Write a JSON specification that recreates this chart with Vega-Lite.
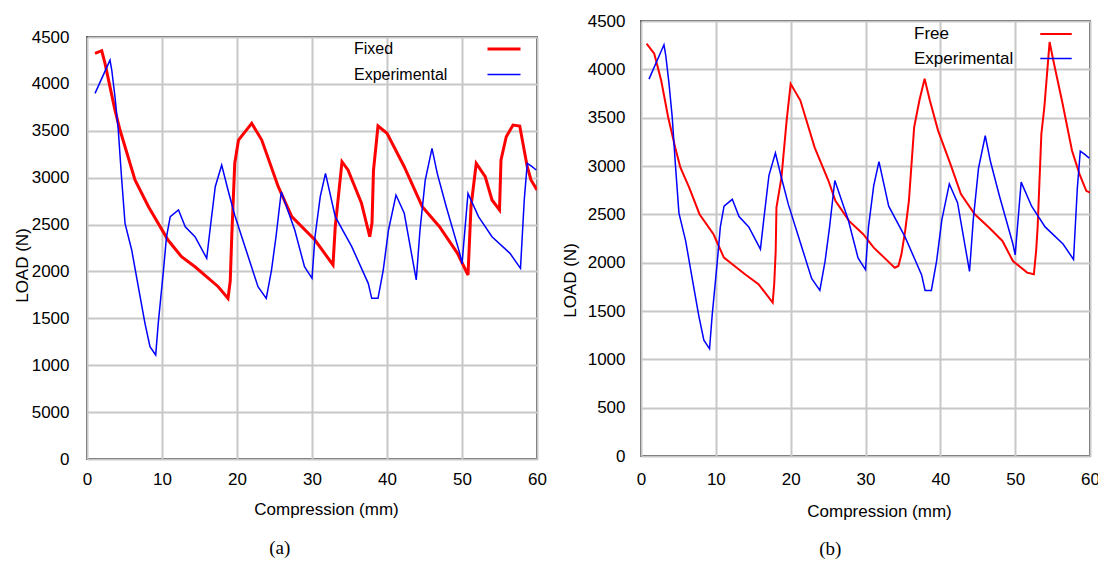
{
  "$schema": "https://vega.github.io/schema/vega-lite/v6.json",
  "background": "white",
  "padding": {"left": 12, "top": 11, "right": 0, "bottom": 0},
  "datasets": {
    "exp": [
      {"mm": 1.07, "load": 3899}, {"mm": 3.07, "load": 4254}, {"mm": 3.3, "load": 4148}, {"mm": 3.73, "load": 3863},
      {"mm": 4.17, "load": 3508}, {"mm": 4.6, "load": 3010}, {"mm": 5.07, "load": 2513}, {"mm": 5.96, "load": 2229},
      {"mm": 6.84, "load": 1837}, {"mm": 7.73, "load": 1447}, {"mm": 8.4, "load": 1198}, {"mm": 9.16, "load": 1109},
      {"mm": 9.5, "load": 1447}, {"mm": 10.2, "load": 2015}, {"mm": 10.6, "load": 2370}, {"mm": 11.1, "load": 2584},
      {"mm": 12.2, "load": 2655}, {"mm": 13.1, "load": 2477}, {"mm": 14.4, "load": 2370}, {"mm": 15.96, "load": 2140},
      {"mm": 16.4, "load": 2442}, {"mm": 17.1, "load": 2904}, {"mm": 17.96, "load": 3135}, {"mm": 18.8, "load": 2868},
      {"mm": 19.7, "load": 2600}, {"mm": 21.5, "load": 2157}, {"mm": 22.8, "load": 1837}, {"mm": 23.9, "load": 1713},
      {"mm": 24.6, "load": 2015}, {"mm": 25.2, "load": 2370}, {"mm": 25.9, "load": 2850}, {"mm": 27.7, "load": 2442},
      {"mm": 29.0, "load": 2050}, {"mm": 30.0, "load": 1927}, {"mm": 30.4, "load": 2370}, {"mm": 31.1, "load": 2797},
      {"mm": 31.8, "load": 3046}, {"mm": 33.1, "load": 2584}, {"mm": 35.3, "load": 2264}, {"mm": 37.5, "load": 1873},
      {"mm": 37.96, "load": 1713}, {"mm": 38.8, "load": 1713}, {"mm": 39.5, "load": 2015}, {"mm": 40.2, "load": 2442},
      {"mm": 41.2, "load": 2815}, {"mm": 42.3, "load": 2620}, {"mm": 43.9, "load": 1909}, {"mm": 44.4, "load": 2442},
      {"mm": 45.1, "load": 2975}, {"mm": 46.0, "load": 3313}, {"mm": 46.7, "load": 3046}, {"mm": 47.9, "load": 2690},
      {"mm": 49.7, "load": 2193}, {"mm": 50.0, "load": 2080}, {"mm": 50.8, "load": 2833}, {"mm": 52.2, "load": 2584},
      {"mm": 54.0, "load": 2370}, {"mm": 56.4, "load": 2193}, {"mm": 57.8, "load": 2033}, {"mm": 58.3, "load": 2762},
      {"mm": 58.7, "load": 3153}, {"mm": 59.3, "load": 3120}, {"mm": 59.9, "load": 3082}
    ],
    "fixed": [
      {"mm": 1.07, "load": 4326}, {"mm": 1.96, "load": 4354}, {"mm": 2.4, "load": 4219}, {"mm": 3.73, "load": 3721},
      {"mm": 4.4, "load": 3508}, {"mm": 6.4, "load": 2975}, {"mm": 8.2, "load": 2690}, {"mm": 10.8, "load": 2335},
      {"mm": 12.6, "load": 2157}, {"mm": 14.4, "load": 2050}, {"mm": 17.5, "load": 1837}, {"mm": 18.8, "load": 1713},
      {"mm": 19.1, "load": 1900}, {"mm": 19.3, "load": 2370}, {"mm": 19.7, "load": 3155}, {"mm": 20.2, "load": 3401},
      {"mm": 21.96, "load": 3580}, {"mm": 23.3, "load": 3401}, {"mm": 25.5, "load": 2904}, {"mm": 27.3, "load": 2584},
      {"mm": 30.4, "load": 2335}, {"mm": 32.8, "load": 2069}, {"mm": 33.1, "load": 2477}, {"mm": 34.0, "load": 3170},
      {"mm": 34.8, "load": 3082}, {"mm": 36.6, "load": 2727}, {"mm": 37.7, "load": 2370}, {"mm": 38.0, "load": 2516},
      {"mm": 38.2, "load": 3082}, {"mm": 38.8, "load": 3551}, {"mm": 40.0, "load": 3473}, {"mm": 42.3, "load": 3117},
      {"mm": 44.7, "load": 2690}, {"mm": 47.0, "load": 2477}, {"mm": 49.4, "load": 2193}, {"mm": 50.8, "load": 1962},
      {"mm": 51.2, "load": 2690}, {"mm": 51.9, "load": 3153}, {"mm": 53.1, "load": 3010}, {"mm": 54.0, "load": 2762},
      {"mm": 55.0, "load": 2655}, {"mm": 55.2, "load": 3188}, {"mm": 55.9, "load": 3437}, {"mm": 56.8, "load": 3561},
      {"mm": 57.7, "load": 3551}, {"mm": 58.7, "load": 3117}, {"mm": 59.2, "load": 2975}, {"mm": 60.0, "load": 2868}
    ],
    "free": [
      {"mm": 0.75, "load": 4265}, {"mm": 1.77, "load": 4161}, {"mm": 2.7, "load": 3884}, {"mm": 3.63, "load": 3504},
      {"mm": 4.56, "load": 3193}, {"mm": 5.26, "load": 2985}, {"mm": 6.43, "load": 2778}, {"mm": 7.82, "load": 2501},
      {"mm": 9.69, "load": 2294}, {"mm": 11.08, "load": 2052}, {"mm": 13.9, "load": 1880}, {"mm": 15.7, "load": 1777},
      {"mm": 17.6, "load": 1588}, {"mm": 17.8, "load": 1777}, {"mm": 18.0, "load": 2120}, {"mm": 18.1, "load": 2570},
      {"mm": 18.77, "load": 2882}, {"mm": 19.46, "load": 3470}, {"mm": 20.0, "load": 3850}, {"mm": 21.3, "load": 3677},
      {"mm": 23.2, "load": 3193}, {"mm": 25.05, "load": 2847}, {"mm": 25.98, "load": 2640}, {"mm": 27.8, "load": 2432},
      {"mm": 29.7, "load": 2294}, {"mm": 31.1, "load": 2155}, {"mm": 32.5, "load": 2052}, {"mm": 33.9, "load": 1948},
      {"mm": 34.4, "load": 1966}, {"mm": 34.8, "load": 2086}, {"mm": 35.3, "load": 2328}, {"mm": 35.8, "load": 2640},
      {"mm": 36.5, "load": 3400}, {"mm": 37.2, "load": 3677}, {"mm": 37.9, "load": 3902}, {"mm": 38.6, "load": 3677},
      {"mm": 39.7, "load": 3366}, {"mm": 41.35, "load": 3020}, {"mm": 42.75, "load": 2709}, {"mm": 44.6, "load": 2501},
      {"mm": 46.5, "load": 2363}, {"mm": 48.3, "load": 2225}, {"mm": 49.7, "load": 2017}, {"mm": 51.6, "load": 1897},
      {"mm": 52.5, "load": 1880}, {"mm": 52.8, "load": 2120}, {"mm": 53.0, "load": 2363}, {"mm": 53.5, "load": 3331},
      {"mm": 53.9, "load": 3608}, {"mm": 54.6, "load": 4282}, {"mm": 55.1, "load": 4092}, {"mm": 56.25, "load": 3677},
      {"mm": 57.6, "load": 3158}, {"mm": 58.6, "load": 2916}, {"mm": 59.5, "load": 2743}, {"mm": 60.0, "load": 2726}
    ]
  },
  "config": {
    "view": {"stroke": "#000000", "strokeWidth": 1.5},
    "font": "Liberation Sans",
    "axis": {
      "grid": true, "gridColor": "#c8c8c8", "gridWidth": 2, "ticks": false, "domain": false,
      "labelFont": "Liberation Sans", "labelFontSize": 17, "labelColor": "#000000",
      "titleFont": "Liberation Sans", "titleFontSize": 17, "titleFontWeight": "normal", "titleColor": "#000000"
    },
    "title": {"font": "Liberation Serif", "fontSize": 19, "fontWeight": "normal", "color": "#000000"}
  },
  "spacing": 12,
  "resolve": {"scale": {"color": "independent", "strokeWidth": "independent"}, "legend": {"color": "independent", "strokeWidth": "independent"}},
  "hconcat": [
    {
      "title": {"text": "(a)", "orient": "bottom", "offset": 21, "anchor": "middle"},
      "spacing": 0,
      "vconcat": [
        {
          "width": 450,
          "height": 1,
          "view": {"stroke": null},
          "data": {"values": [{"t": ""}]},
          "mark": {"type": "text"},
          "encoding": {"text": {"field": "t", "type": "nominal"}}
        },
        {
          "width": 450,
          "height": 422,
          "layer": [
            {
              "data": {"name": "fixed"},
              "transform": [{"calculate": "'Fixed'", "as": "series"}],
              "mark": {"type": "line", "clip": true},
              "encoding": {
                "x": {"field": "mm", "type": "quantitative"},
                "y": {"field": "load", "type": "quantitative"},
                "color": {"field": "series", "type": "nominal"},
                "strokeWidth": {"field": "series", "type": "nominal"}
              }
            },
            {
              "data": {"name": "exp"},
              "transform": [{"calculate": "'Experimental'", "as": "series"}],
              "mark": {"type": "line", "clip": true},
              "encoding": {
                "x": {"field": "mm", "type": "quantitative"},
                "y": {"field": "load", "type": "quantitative"},
                "color": {"field": "series", "type": "nominal"},
                "strokeWidth": {"field": "series", "type": "nominal"}
              }
            }
          ],
          "encoding": {
            "x": {"field": "mm", "type": "quantitative", "scale": {"domain": [0, 60], "nice": false},
              "axis": {"values": [0, 10, 20, 30, 40, 50, 60], "title": "Compression (mm)", "labelPadding": 12, "titlePadding": 14, "titleX": 239, "labelFlush": false}},
            "y": {"field": "load", "type": "quantitative", "scale": {"domain": [0, 4500], "nice": false},
              "axis": {"values": [0, 500, 1000, 1500, 2000, 2500, 3000, 3500, 4000, 4500], "format": "d",
                "labelExpr": "datum.value === 500 ? '5000' : datum.label",
                "encode": {"labels": {"update": {"dx": {"signal": "datum.value <= 500 ? 7 : 0"}}}},
                "title": "LOAD (N)", "labelPadding": 18, "titlePadding": 0, "titleY": 228, "labelFlush": false}},
            "color": {"field": "series", "type": "nominal",
              "scale": {"domain": ["Fixed", "Experimental"], "range": ["#ff0000", "#0000ff"]},
              "legend": {"orient": "none", "legendX": 399, "legendY": 10, "title": null, "symbolType": "stroke", "symbolSize": 1089,
                "labelOffset": -168, "labelFontSize": 16, "labelFont": "Liberation Sans", "labelColor": "#000000", "rowPadding": -16, "padding": 0}},
            "strokeWidth": {"field": "series", "type": "nominal",
              "scale": {"domain": ["Fixed", "Experimental"], "range": [3, 1.5]},
              "legend": {"orient": "none", "legendX": 399, "legendY": 10, "title": null, "symbolType": "stroke", "symbolSize": 1089,
                "labelOffset": -168, "labelFontSize": 16, "labelFont": "Liberation Sans", "labelColor": "#000000", "rowPadding": -16, "padding": 0}}
          }
        }
      ]
    },
    {
      "title": {"text": "(b)", "orient": "bottom", "offset": 20, "anchor": "middle"},
      "vconcat": [
        {
          "width": 449,
          "height": 435,
          "layer": [
            {
              "data": {"name": "free"},
              "transform": [{"calculate": "'Free'", "as": "series"}],
              "mark": {"type": "line", "clip": true},
              "encoding": {
                "x": {"field": "mm", "type": "quantitative"},
                "y": {"field": "load", "type": "quantitative"},
                "color": {"field": "series", "type": "nominal"},
                "strokeWidth": {"field": "series", "type": "nominal"}
              }
            },
            {
              "data": {"name": "exp"},
              "transform": [{"calculate": "'Experimental'", "as": "series"}],
              "mark": {"type": "line", "clip": true},
              "encoding": {
                "x": {"field": "mm", "type": "quantitative"},
                "y": {"field": "load", "type": "quantitative"},
                "color": {"field": "series", "type": "nominal"},
                "strokeWidth": {"field": "series", "type": "nominal"}
              }
            }
          ],
          "encoding": {
            "x": {"field": "mm", "type": "quantitative", "scale": {"domain": [0, 60], "nice": false},
              "axis": {"values": [0, 10, 20, 30, 40, 50, 60], "title": "Compression (mm)", "labelPadding": 15, "titlePadding": 16, "titleX": 238, "labelFlush": false}},
            "y": {"field": "load", "type": "quantitative", "scale": {"domain": [0, 4500], "nice": false},
              "axis": {"values": [0, 500, 1000, 1500, 2000, 2500, 3000, 3500, 4000, 4500], "format": "d",
                "title": "LOAD (N)", "labelPadding": 16, "titlePadding": 8, "titleY": 259, "labelFlush": false}},
            "color": {"field": "series", "type": "nominal",
              "scale": {"domain": ["Free", "Experimental"], "range": ["#ff0000", "#0000ff"]},
              "legend": {"orient": "none", "legendX": 398, "legendY": -4, "title": null, "symbolType": "stroke", "symbolSize": 992,
                "labelOffset": -159, "labelFontSize": 17, "labelFont": "Liberation Sans", "labelColor": "#000000", "rowPadding": -7, "padding": 0}},
            "strokeWidth": {"field": "series", "type": "nominal",
              "scale": {"domain": ["Free", "Experimental"], "range": [2, 1.5]},
              "legend": {"orient": "none", "legendX": 398, "legendY": -4, "title": null, "symbolType": "stroke", "symbolSize": 992,
                "labelOffset": -159, "labelFontSize": 17, "labelFont": "Liberation Sans", "labelColor": "#000000", "rowPadding": -7, "padding": 0}}
          }
        }
      ]
    }
  ]
}
